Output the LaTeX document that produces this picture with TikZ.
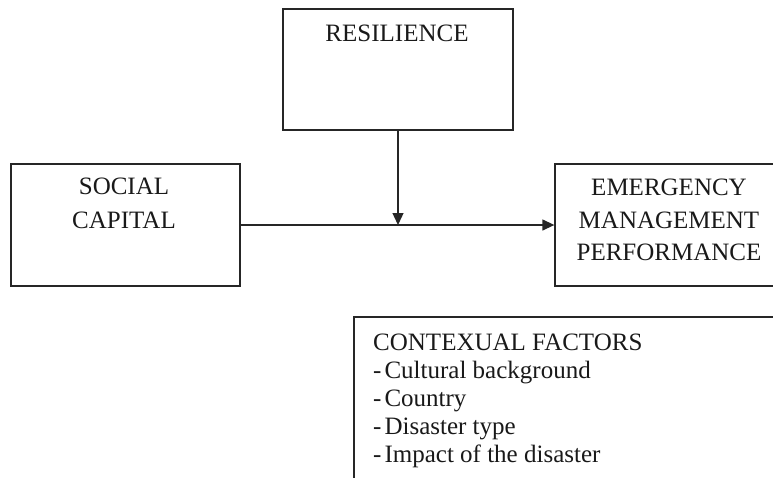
\documentclass[tikz,border=0pt]{standalone}
\usepackage{fontspec}
\setmainfont{Liberation Serif}
\usetikzlibrary{arrows.meta}
\begin{document}
\begin{tikzpicture}[x=1pt,y=-1pt,
  box/.style={draw=black!85, line width=1.3pt, rectangle, inner sep=0pt},
  txt/.style={font=\fontsize{25}{28}\selectfont, inner sep=0pt, text=black!90},
  arr/.style={draw=black!85, line width=1.3pt, -{Triangle[length=12pt,width=11pt]}}]
\useasboundingbox (0,0) rectangle (773,477);
\clip (0,0) rectangle (773,477);
% boxes
\node[box, minimum width=230pt, minimum height=121pt] (res) at (398,69.5) {};
\node[box, minimum width=229pt, minimum height=122pt] (soc) at (125.5,225) {};
\node[box, minimum width=228pt, minimum height=122pt] (emp) at (669,225) {};
\node[box, minimum width=446pt, minimum height=183pt] (ctx) at (577,408.5) {};
% texts
\node[txt, anchor=base] (tres) at (397,41.5) {RESILIENCE};
\node[txt, anchor=base] (tsoc1) at (124,194) {SOCIAL};
\node[txt, anchor=base] (tsoc2) at (124,228) {CAPITAL};
\node[txt, anchor=base] (temp1) at (669,195) {EMERGENCY};
\node[txt, anchor=base] (temp2) at (669,228) {MANAGEMENT};
\node[txt, anchor=base] (temp3) at (669,260) {PERFORMANCE};
\node[txt, anchor=base west] (c1) at (373,350) {CONTEXUAL FACTORS};
\node[txt, anchor=base west] (c2) at (373,378) {-\kern3pt Cultural background};
\node[txt, anchor=base west] (c3) at (373,406) {-\kern3pt Country};
\node[txt, anchor=base west] (c4) at (373,434) {-\kern3pt Disaster type};
\node[txt, anchor=base west] (c5) at (373,462) {-\kern3pt Impact of the disaster};
% connectors
\draw[arr] (soc.east) -- (emp.west);
\draw[arr] (res.south) -- (res.south |- soc.east);
\end{tikzpicture}
\end{document}
